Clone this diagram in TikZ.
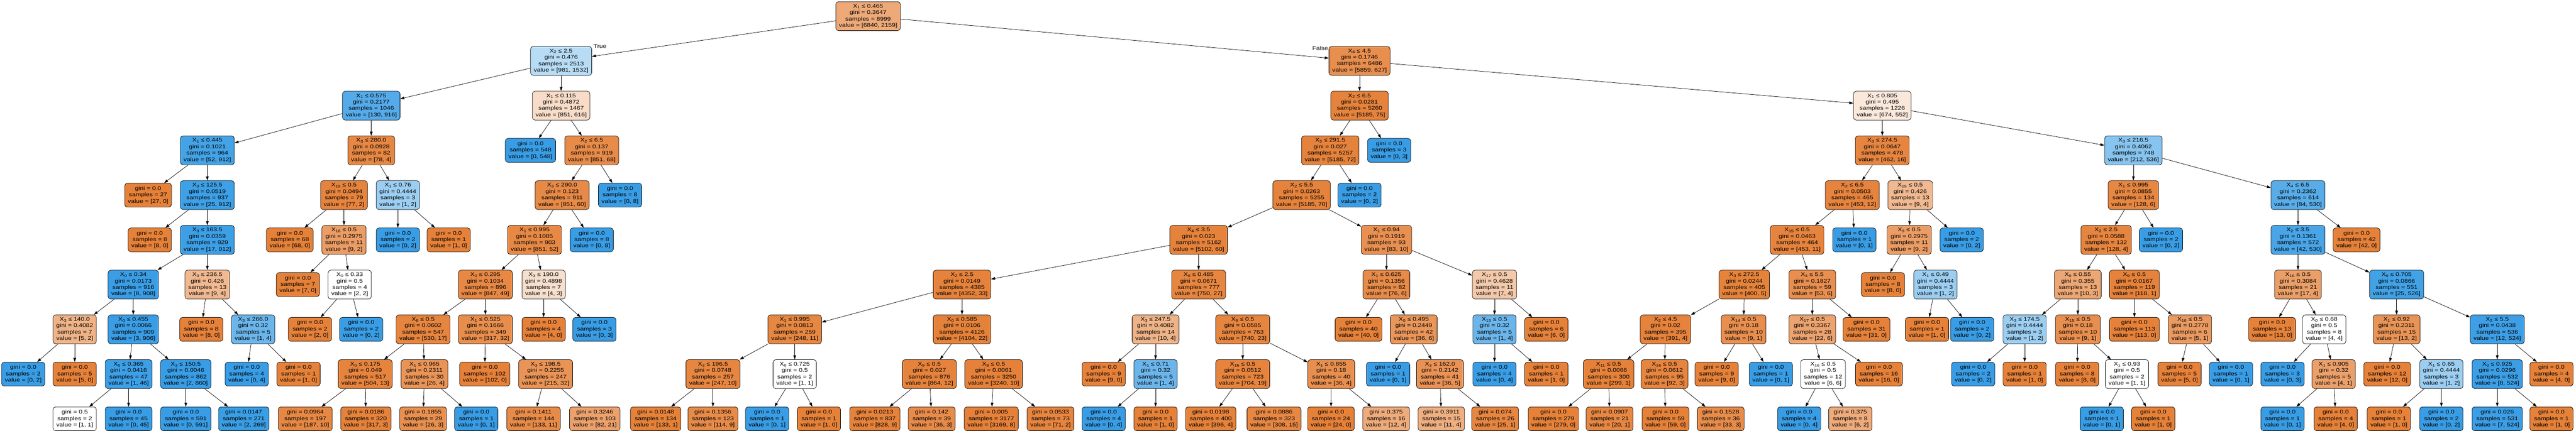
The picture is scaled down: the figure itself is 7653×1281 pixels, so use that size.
\documentclass[tikz,border=0pt]{standalone}
\usepackage{fontspec}
\setmainfont{Liberation Sans}[FakeStretch=1.19]
\usetikzlibrary{arrows.meta}

\definecolor{clsa}{RGB}{229,129,57}
\definecolor{clsb}{RGB}{57,157,229}

\tikzset{
	tone/.code 2 args={\pgfmathsetmacro\tonepct{abs(#1-#2)/max(#1,#2)*100}%
		\ifnum#1<#2\relax\def\tonebase{clsb}\else\def\tonebase{clsa}\fi
		\edef\tonetmp{\noexpand\pgfkeysalso{fill=\tonebase!\tonepct!white}}\tonetmp},
	split/.style={draw=black, line width=1.1pt, rounded corners=8pt, align=center,
		font=\fontsize{16}{19}\selectfont, inner xsep=9.5pt, inner ysep=3pt, minimum height=86pt},
	leaf/.style={split, minimum height=71pt},
	link/.style={black, line width=1.1pt, -{Triangle[length=12pt,width=8pt]}},
	side/.style={font=\fontsize{16}{19}\selectfont, inner sep=0pt}
}

% name, x, level, feature, threshold, gini, value
\newcommand\splitnd[8]{\node[split, tone={#7}{#8}] (#1) at (#2,{48+133*#3})
	{X\textsubscript{#4} ≤ #5\\gini = #6\\samples = \the\numexpr#7+#8\relax\\value = [#7, #8]};}
% name, x, level, gini, value
\newcommand\leafnd[6]{\node[leaf, tone={#5}{#6}] (#1) at (#2,{48+133*#3})
	{gini = #4\\samples = \the\numexpr#5+#6\relax\\value = [#5, #6]};}

\begin{document}
\begin{tikzpicture}[x=1pt, y=-1pt]
			\useasboundingbox (0,0) rectangle (7653,1281);
			% level 0-2
			\splitnd{a1}{2579}{0}{1}{0.465}{0.3647}{6840}{2159}
			\splitnd{b1}{1667}{1}{2}{2.5}{0.476}{981}{1532}
			\splitnd{b2}{4039}{1}{4}{4.5}{0.1746}{5859}{627}
			\splitnd{c1}{1103}{2}{1}{0.575}{0.2177}{130}{916}
			\splitnd{c2}{1667}{2}{1}{0.115}{0.4872}{851}{616}
			\splitnd{c3}{4039}{2}{2}{6.5}{0.0281}{5185}{75}
			\splitnd{c4}{5592}{2}{1}{0.805}{0.495}{674}{552}
			\node[side, anchor=west] (ltrue) at ([xshift=5pt]b1.north east) {True};
			\node[side, anchor=east] (lfalse) at ([xshift=-2pt,yshift=-6pt]b2.north west) {False};
			% level 3
			\splitnd{d1}{616}{3}{1}{0.445}{0.1021}{52}{912}
			\splitnd{d2}{1103}{3}{3}{280.0}{0.0928}{78}{4}
			\leafnd{d3}{1576}{3}{0.0}{0}{548}
			\splitnd{d4}{1758}{3}{2}{6.5}{0.137}{851}{68}
			\splitnd{d5}{3952}{3}{3}{291.5}{0.027}{5185}{72}
			\leafnd{d6}{4127}{3}{0.0}{0}{3}
			\splitnd{d7}{5592}{3}{3}{274.5}{0.0647}{462}{16}
			\splitnd{d8}{6338}{3}{3}{216.5}{0.4062}{212}{536}
			% level 4
			\leafnd{e1}{440}{4}{0.0}{27}{0}
			\splitnd{e2}{616}{4}{3}{125.5}{0.0519}{25}{912}
			\splitnd{e3}{1022}{4}{15}{0.5}{0.0494}{77}{2}
			\splitnd{e4}{1182}{4}{1}{0.76}{0.4444}{1}{2}
			\splitnd{e5}{1670}{4}{3}{290.0}{0.123}{851}{60}
			\leafnd{e6}{1842}{4}{0.0}{0}{8}
			\splitnd{e7}{3867}{4}{2}{5.5}{0.0263}{5185}{70}
			\leafnd{e8}{4039}{4}{0.0}{0}{2}
			\splitnd{e9}{5503}{4}{2}{6.5}{0.0503}{453}{12}
			\splitnd{e10}{5675}{4}{15}{0.5}{0.426}{9}{4}
			\splitnd{e11}{6338}{4}{1}{0.995}{0.0855}{128}{6}
			\splitnd{e12}{6827}{4}{4}{6.5}{0.2362}{84}{530}
			% level 5
			\leafnd{f1}{445}{5}{0.0}{8}{0}
			\splitnd{f2}{616}{5}{3}{163.5}{0.0359}{17}{912}
			\leafnd{f3}{861}{5}{0.0}{68}{0}
			\splitnd{f4}{1022}{5}{16}{0.5}{0.2975}{9}{2}
			\leafnd{f5}{1182}{5}{0.0}{0}{2}
			\leafnd{f6}{1333}{5}{0.0}{1}{0}
			\splitnd{f7}{1588}{5}{1}{0.995}{0.1085}{851}{52}
			\leafnd{f8}{1758}{5}{0.0}{0}{8}
			\splitnd{f9}{3561}{5}{4}{3.5}{0.023}{5102}{60}
			\splitnd{f10}{4119}{5}{1}{0.94}{0.1919}{83}{10}
			\splitnd{f11}{5339}{5}{15}{0.5}{0.0463}{453}{11}
			\leafnd{f12}{5509}{5}{0.0}{0}{1}
			\splitnd{f13}{5672}{5}{9}{0.5}{0.2975}{9}{2}
			\leafnd{f14}{5828}{5}{0.0}{0}{2}
			\splitnd{f15}{6257}{5}{2}{2.5}{0.0588}{128}{4}
			\leafnd{f16}{6420}{5}{0.0}{0}{2}
			\splitnd{f17}{6827}{5}{2}{3.5}{0.1361}{42}{530}
			\leafnd{f18}{7001}{5}{0.0}{42}{0}
			% level 6
			\splitnd{g1}{396}{6}{0}{0.34}{0.0173}{8}{908}
			\splitnd{g2}{616}{6}{3}{236.5}{0.426}{9}{4}
			\leafnd{g3}{885}{6}{0.0}{7}{0}
			\splitnd{g4}{1039}{6}{0}{0.33}{0.5}{2}{2}
			\splitnd{g5}{1442}{6}{0}{0.295}{0.1034}{847}{49}
			\splitnd{g6}{1615}{6}{3}{190.0}{0.4898}{4}{3}
			\splitnd{g7}{2858}{6}{2}{2.5}{0.0149}{4352}{33}
			\splitnd{g8}{3561}{6}{0}{0.485}{0.0671}{750}{27}
			\splitnd{g9}{4119}{6}{1}{0.625}{0.1356}{76}{6}
			\splitnd{g10}{4440}{6}{17}{0.5}{0.4628}{7}{4}
			\splitnd{g11}{5182}{6}{3}{272.5}{0.0244}{400}{5}
			\splitnd{g12}{5384}{6}{4}{5.5}{0.1827}{53}{6}
			\leafnd{g13}{5594}{6}{0.0}{8}{0}
			\splitnd{g14}{5750}{6}{1}{0.49}{0.4444}{1}{2}
			\splitnd{g15}{6173}{6}{0}{0.55}{0.355}{10}{3}
			\splitnd{g16}{6341}{6}{9}{0.5}{0.0167}{118}{1}
			\splitnd{g17}{6827}{6}{16}{0.5}{0.3084}{17}{4}
			\splitnd{g18}{7120}{6}{0}{0.705}{0.0866}{25}{526}
			% level 7
			\splitnd{h1}{222}{7}{3}{140.0}{0.4082}{5}{2}
			\splitnd{h2}{396}{7}{0}{0.455}{0.0066}{3}{906}
			\leafnd{h3}{598}{7}{0.0}{8}{0}
			\splitnd{h4}{752}{7}{3}{266.0}{0.32}{1}{4}
			\leafnd{h5}{921}{7}{0.0}{2}{0}
			\leafnd{h6}{1073}{7}{0.0}{0}{2}
			\splitnd{h7}{1257}{7}{8}{0.5}{0.0602}{530}{17}
			\splitnd{h8}{1442}{7}{1}{0.525}{0.1666}{317}{32}
			\leafnd{h9}{1615}{7}{0.0}{4}{0}
			\leafnd{h10}{1766}{7}{0.0}{0}{3}
			\splitnd{h11}{2361}{7}{1}{0.995}{0.0813}{248}{11}
			\splitnd{h12}{2858}{7}{0}{0.585}{0.0106}{4104}{22}
			\splitnd{h13}{3433}{7}{3}{247.5}{0.4082}{10}{4}
			\splitnd{h14}{3692}{7}{9}{0.5}{0.0585}{740}{23}
			\leafnd{h15}{4036}{7}{0.0}{40}{0}
			\splitnd{h16}{4200}{7}{0}{0.495}{0.2449}{36}{6}
			\splitnd{h17}{4440}{7}{15}{0.5}{0.32}{1}{4}
			\leafnd{h18}{4594}{7}{0.0}{6}{0}
			\splitnd{h19}{4948}{7}{2}{4.5}{0.02}{391}{4}
			\splitnd{h20}{5180}{7}{14}{0.5}{0.18}{9}{1}
			\splitnd{h21}{5384}{7}{17}{0.5}{0.3367}{22}{6}
			\leafnd{h22}{5545}{7}{0.0}{31}{0}
			\leafnd{h23}{5725}{7}{0.0}{1}{0}
			\leafnd{h24}{5859}{7}{0.0}{0}{2}
			\splitnd{h25}{6015}{7}{3}{174.5}{0.4444}{1}{2}
			\splitnd{h26}{6173}{7}{15}{0.5}{0.18}{9}{1}
			\leafnd{h27}{6341}{7}{0.0}{113}{0}
			\splitnd{h28}{6506}{7}{16}{0.5}{0.2778}{5}{1}
			\leafnd{h29}{6750}{7}{0.0}{13}{0}
			\splitnd{h30}{6905}{7}{0}{0.68}{0.5}{4}{4}
			\splitnd{h31}{7120}{7}{1}{0.92}{0.2311}{13}{2}
			\splitnd{h32}{7419}{7}{2}{5.5}{0.0438}{12}{524}
			% level 8
			\leafnd{i1}{69}{8}{0.0}{0}{2}
			\leafnd{i2}{222}{8}{0.0}{5}{0}
			\splitnd{i3}{382}{8}{0}{0.365}{0.0416}{1}{46}
			\splitnd{i4}{552}{8}{3}{150.5}{0.0046}{2}{860}
			\leafnd{i5}{733}{8}{0.0}{0}{4}
			\leafnd{i6}{887}{8}{0.0}{1}{0}
			\splitnd{i7}{1085}{8}{0}{0.175}{0.049}{504}{13}
			\splitnd{i8}{1261}{8}{1}{0.965}{0.2311}{26}{4}
			\leafnd{i9}{1440}{8}{0.0}{102}{0}
			\splitnd{i10}{1621}{8}{3}{198.5}{0.2255}{215}{32}
			\splitnd{i11}{2118}{8}{3}{196.5}{0.0748}{247}{10}
			\splitnd{i12}{2361}{8}{0}{0.725}{0.5}{1}{1}
			\splitnd{i13}{2761}{8}{9}{0.5}{0.027}{864}{12}
			\splitnd{i14}{2952}{8}{8}{0.5}{0.0061}{3240}{10}
			\leafnd{i15}{3279}{8}{0.0}{9}{0}
			\splitnd{i16}{3433}{8}{1}{0.71}{0.32}{1}{4}
			\splitnd{i17}{3692}{8}{16}{0.5}{0.0512}{704}{19}
			\splitnd{i18}{3955}{8}{1}{0.855}{0.18}{36}{4}
			\leafnd{i19}{4124}{8}{0.0}{0}{1}
			\splitnd{i20}{4278}{8}{3}{162.0}{0.2142}{36}{5}
			\leafnd{i21}{4440}{8}{0.0}{0}{4}
			\leafnd{i22}{4594}{8}{0.0}{1}{0}
			\splitnd{i23}{4779}{8}{11}{0.5}{0.0066}{299}{1}
			\splitnd{i24}{4945}{8}{16}{0.5}{0.0612}{92}{3}
			\leafnd{i25}{5100}{8}{0.0}{9}{0}
			\leafnd{i26}{5261}{8}{0.0}{0}{1}
			\splitnd{i27}{5416}{8}{16}{0.5}{0.5}{6}{6}
			\leafnd{i28}{5582}{8}{0.0}{16}{0}
			\leafnd{i29}{5862}{8}{0.0}{0}{2}
			\leafnd{i30}{6015}{8}{0.0}{1}{0}
			\leafnd{i31}{6171}{8}{0.0}{8}{0}
			\splitnd{i32}{6319}{8}{1}{0.93}{0.5}{1}{1}
			\leafnd{i33}{6475}{8}{0.0}{5}{0}
			\leafnd{i34}{6628}{8}{0.0}{0}{1}
			\leafnd{i35}{6781}{8}{0.0}{0}{3}
			\splitnd{i36}{6933}{8}{1}{0.905}{0.32}{4}{1}
			\leafnd{i37}{7092}{8}{0.0}{12}{0}
			\splitnd{i38}{7253}{8}{1}{0.65}{0.4444}{1}{2}
			\splitnd{i39}{7419}{8}{0}{0.925}{0.0296}{8}{524}
			\leafnd{i40}{7580}{8}{0.0}{4}{0}
			% level 9
			\leafnd{j1}{222}{9}{0.5}{1}{1}
			\leafnd{j2}{382}{9}{0.0}{0}{45}
			\leafnd{j3}{552}{9}{0.0}{0}{591}
			\leafnd{j4}{724}{9}{0.0147}{2}{269}
			\leafnd{j5}{907}{9}{0.0964}{187}{10}
			\leafnd{j6}{1087}{9}{0.0186}{317}{3}
			\leafnd{j7}{1257}{9}{0.1855}{26}{3}
			\leafnd{j8}{1415}{9}{0.0}{0}{1}
			\leafnd{j9}{1585}{9}{0.1411}{133}{11}
			\leafnd{j10}{1767}{9}{0.3246}{82}{21}
			\leafnd{j11}{1948}{9}{0.0148}{133}{1}
			\leafnd{j12}{2118}{9}{0.1356}{114}{9}
			\leafnd{j13}{2279}{9}{0.0}{0}{1}
			\leafnd{j14}{2433}{9}{0.0}{1}{0}
			\leafnd{j15}{2599}{9}{0.0213}{828}{9}
			\leafnd{j16}{2768}{9}{0.142}{36}{3}
			\leafnd{j17}{2945}{9}{0.005}{3169}{8}
			\leafnd{j18}{3121}{9}{0.0533}{71}{2}
			\leafnd{j19}{3279}{9}{0.0}{0}{4}
			\leafnd{j20}{3433}{9}{0.0}{1}{0}
			\leafnd{j21}{3597}{9}{0.0198}{396}{4}
			\leafnd{j22}{3785}{9}{0.0886}{308}{15}
			\leafnd{j23}{3954}{9}{0.0}{24}{0}
			\leafnd{j24}{4118}{9}{0.375}{12}{4}
			\leafnd{j25}{4282}{9}{0.3911}{11}{4}
			\leafnd{j26}{4442}{9}{0.074}{25}{1}
			\leafnd{j27}{4615}{9}{0.0}{279}{0}
			\leafnd{j28}{4782}{9}{0.0907}{20}{1}
			\leafnd{j29}{4948}{9}{0.0}{59}{0}
			\leafnd{j30}{5112}{9}{0.1528}{33}{3}
			\leafnd{j31}{5345}{9}{0.0}{0}{4}
			\leafnd{j32}{5497}{9}{0.375}{6}{2}
			\leafnd{j33}{6244}{9}{0.0}{0}{1}
			\leafnd{j34}{6397}{9}{0.0}{1}{0}
			\leafnd{j35}{6781}{9}{0.0}{0}{1}
			\leafnd{j36}{6939}{9}{0.0}{4}{0}
			\leafnd{j37}{7097}{9}{0.0}{1}{0}
			\leafnd{j38}{7253}{9}{0.0}{0}{2}
			\leafnd{j39}{7419}{9}{0.026}{7}{524}
			\leafnd{j40}{7580}{9}{0.0}{1}{0}
			% connectors
			\foreach \p/\c in {a1/b1,a1/b2,b1/c1,b1/c2,b2/c3,b2/c4,
				c1/d1,c1/d2,c2/d3,c2/d4,c3/d5,c3/d6,c4/d7,c4/d8,
				d1/e1,d1/e2,d2/e3,d2/e4,d4/e5,d4/e6,d5/e7,d5/e8,d7/e9,d7/e10,d8/e11,d8/e12,
				e2/f1,e2/f2,e3/f3,e3/f4,e4/f5,e4/f6,e5/f7,e5/f8,e7/f9,e7/f10,e9/f11,e9/f12,
				e10/f13,e10/f14,e11/f15,e11/f16,e12/f17,e12/f18,
				f2/g1,f2/g2,f4/g3,f4/g4,f7/g5,f7/g6,f9/g7,f9/g8,f10/g9,f10/g10,
				f11/g11,f11/g12,f13/g13,f13/g14,f15/g15,f15/g16,f17/g17,f17/g18,
				g1/h1,g1/h2,g2/h3,g2/h4,g4/h5,g4/h6,g5/h7,g5/h8,g6/h9,g6/h10,
				g7/h11,g7/h12,g8/h13,g8/h14,g9/h15,g9/h16,g10/h17,g10/h18,
				g11/h19,g11/h20,g12/h21,g12/h22,g14/h23,g14/h24,g15/h25,g15/h26,
				g16/h27,g16/h28,g17/h29,g17/h30,g18/h31,g18/h32,
				h1/i1,h1/i2,h2/i3,h2/i4,h4/i5,h4/i6,h7/i7,h7/i8,h8/i9,h8/i10,
				h11/i11,h11/i12,h12/i13,h12/i14,h13/i15,h13/i16,h14/i17,h14/i18,
				h16/i19,h16/i20,h17/i21,h17/i22,h19/i23,h19/i24,h20/i25,h20/i26,
				h21/i27,h21/i28,h25/i29,h25/i30,h26/i31,h26/i32,h28/i33,h28/i34,
				h30/i35,h30/i36,h31/i37,h31/i38,h32/i39,h32/i40,
				i3/j1,i3/j2,i4/j3,i4/j4,i7/j5,i7/j6,i8/j7,i8/j8,i10/j9,i10/j10,
				i11/j11,i11/j12,i12/j13,i12/j14,i13/j15,i13/j16,i14/j17,i14/j18,
				i16/j19,i16/j20,i17/j21,i17/j22,i18/j23,i18/j24,i20/j25,i20/j26,
				i23/j27,i23/j28,i24/j29,i24/j30,i27/j31,i27/j32,i32/j33,i32/j34,
				i36/j35,i36/j36,i38/j37,i38/j38,i39/j39,i39/j40}
				\draw [link] (\p) -- (\c);
\end{tikzpicture}
\end{document}
